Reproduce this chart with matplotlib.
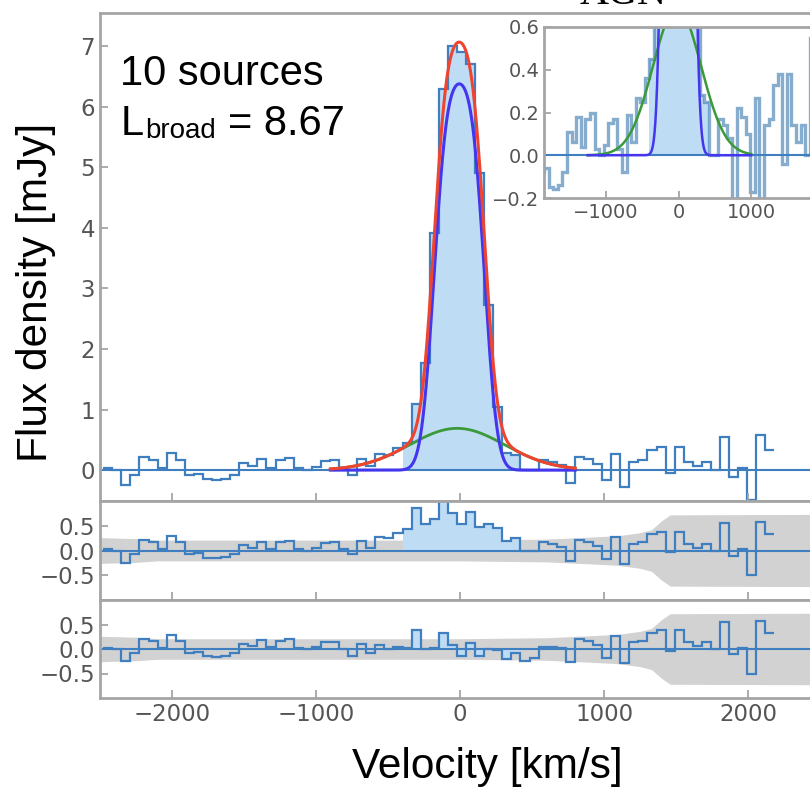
import math
import numpy as np
import matplotlib.pyplot as plt

# stacked spectrum, channels of constant width (km/s)
chan_start = -2478.0
chan_width = 63.0

flux = [0.03, 0.00, -0.25, -0.08, 0.21, 0.17, 0.03, 0.29, 0.17, -0.08,
        -0.06, -0.15, -0.16, -0.14, -0.08, 0.11, 0.06, 0.18, 0.04, 0.17,
        0.20, 0.03, 0.00, 0.05, 0.15, 0.17, 0.03, -0.08, 0.19, 0.06,
        0.27, 0.25, 0.36, 0.45, 1.10, 1.77, 3.92, 6.30, 7.00, 6.90,
        6.70, 4.90, 2.72, 1.05, 0.28, 0.25, 0.00, 0.00, 0.17, 0.14,
        0.08, -0.22, 0.22, 0.18, 0.10, -0.17, 0.27, -0.28, 0.14, 0.17,
        0.33, 0.38, -0.04, 0.38, 0.14, 0.06, 0.14, 0.00, 0.55, -0.11,
        0.03, -0.50, 0.58, 0.33]

# channels shaded as line emission
core_lo, core_hi = 33, 46

# fitted components: flat-topped narrow line + broad gaussian
narrow_amp, narrow_cen, narrow_halfw, narrow_sig = 6.38, -5.0, 175.0, 70.0
broad_amp, broad_cen, broad_sig = 0.69, -20.0, 330.0

# 1-sigma noise envelope of the residuals
noise_vel = [-2500, -2250, -2100, 0, 600, 900, 1100, 1250, 1330, 1400, 1460, 2500]
noise_sig = [0.26, 0.24, 0.21, 0.21, 0.23, 0.27, 0.30, 0.36, 0.42, 0.60, 0.72, 0.73]

vel_ticks = [-2000, -1000, 0, 1000, 2000]
main_yticks = [0, 1, 2, 3, 4, 5, 6, 7]
resid_yticks = [-0.5, 0.0, 0.5]
inset_xticks = [-1000, 0, 1000]
inset_yticks = [-0.2, 0.0, 0.2, 0.4, 0.6]

STEP = "#3f7fc0"
FILL = "#bfdcf5"
RED = "#ee4430"
BLUE = "#4436ee"
GREEN = "#3a9a3a"
BAND = "#d2d2d2"
AXC = "#a5a5a5"
TXT = "#555555"
SANS = "Liberation Sans"

erf = np.vectorize(math.erf)


def narrow(v):
    k = math.sqrt(2) * narrow_sig
    norm = math.erf(narrow_halfw / k)
    d = np.asarray(v) - narrow_cen
    return narrow_amp / norm * 0.5 * (erf((d + narrow_halfw) / k) - erf((d - narrow_halfw) / k))


def broad(v):
    return broad_amp * np.exp(-0.5 * ((np.asarray(v) - broad_cen) / broad_sig) ** 2)


def style(ax, fs, length=6):
    for s in ax.spines.values():
        s.set_color(AXC)
        s.set_linewidth(2)
    ax.tick_params(direction="in", length=length, width=1.3, color=AXC,
                   labelcolor=TXT, labelsize=fs, top=False, right=True)


flux = np.array(flux)
edges = chan_start + chan_width * np.arange(len(flux) + 1)
centers = 0.5 * (edges[1:] + edges[:-1])
resid_narrow = flux - narrow(centers)
resid_total = flux - narrow(centers) - broad(centers)
vm = np.linspace(-900, 800, 600)
vi = np.linspace(-1250, 1000, 600)

W, H = 810, 790
fig = plt.figure(figsize=(W / 100, H / 100), dpi=100)


def box(x0, y0, x1, y1):
    return [x0 / W, 1 - y1 / H, (x1 - x0) / W, (y1 - y0) / H]


# main spectrum
ax = fig.add_axes(box(100, 13, 820, 501))
ax.stairs(flux[core_lo:core_hi], edges[core_lo:core_hi + 1], fill=True,
          baseline=0, color=FILL, lw=0)
ax.axhline(0, color=STEP, lw=1.5)
ax.stairs(flux, edges, baseline=None, color=STEP, lw=1.6)
ax.plot(vm, broad(vm), color=GREEN, lw=2)
ax.plot(vm, narrow(vm), color=BLUE, lw=2.2)
ax.plot(vm, narrow(vm) + broad(vm), color=RED, lw=2.2)
ax.set_xlim(-2500, 2500)
ax.set_ylim(-0.51, 7.55)
ax.set_xticks(vel_ticks)
ax.set_yticks(main_yticks)
style(ax, 16.5)
ax.tick_params(labelbottom=False)

# residual panels
for i, (res, y0, y1) in enumerate([(resid_narrow, 501, 600), (resid_total, 600, 698)]):
    r = fig.add_axes(box(100, y0, 820, y1))
    r.fill_between(noise_vel, -np.array(noise_sig), noise_sig, color=BAND, lw=0)
    r.stairs(res[core_lo:core_hi], edges[core_lo:core_hi + 1], fill=True,
             baseline=0, color=FILL, lw=0)
    r.axhline(0, color=STEP, lw=1.5)
    r.stairs(res, edges, baseline=None, color=STEP, lw=1.6)
    r.set_xlim(-2500, 2500)
    r.set_ylim(-1.0, 1.0)
    r.set_xticks(vel_ticks)
    r.set_yticks(resid_yticks)
    r.set_yticklabels(["\u22120.5", "0.0", "0.5"])
    style(r, 16.5)
    if i == 0:
        r.tick_params(labelbottom=False)

# inset zoom on the broad component
ins = fig.add_axes(box(544, 27, 813, 198))
ins.set_facecolor("white")
ins.stairs(flux[core_lo:core_hi], edges[core_lo:core_hi + 1], fill=True,
           baseline=0, color=FILL, lw=0)
ins.axhline(0, color=STEP, lw=1.5)
ins.stairs(flux, edges, baseline=None, color="#4682b4", lw=2.4, alpha=0.65)
ins.plot(vi, broad(vi), color=GREEN, lw=1.8)
ins.plot(vi, narrow(vi), color=BLUE, lw=1.8)
ins.set_xlim(-1850, 1850)
ins.set_ylim(-0.2, 0.6)
ins.set_xticks(inset_xticks)
ins.set_yticks(inset_yticks)
style(ins, 14, length=5)
ins.tick_params(right=False)

# annotations
fig.text(120 / W, 1 - 85 / H, "10 sources", fontsize=30, family=SANS, va="baseline")
fig.text(121 / W, 1 - 135 / H, "L", fontsize=30, family=SANS, va="baseline")
fig.text(145 / W, 1 - 138 / H, "broad", fontsize=20, family=SANS, va="baseline")
fig.text(228 / W, 1 - 135 / H, "= 8.67", fontsize=30, family=SANS, va="baseline")
fig.text(623 / W, 1 - 4 / H, "AGN", fontsize=29, family="Liberation Serif",
         ha="center", va="baseline")

fig.text(36 / W, 1 - 292 / H, "Flux density [mJy]", rotation=90, fontsize=30.5,
         family=SANS, ha="center", va="center")
fig.text(487 / W, 1 - 778 / H, "Velocity [km/s]", fontsize=30.5, family=SANS,
         ha="center", va="baseline")

fig.savefig("out.png", dpi=100)
